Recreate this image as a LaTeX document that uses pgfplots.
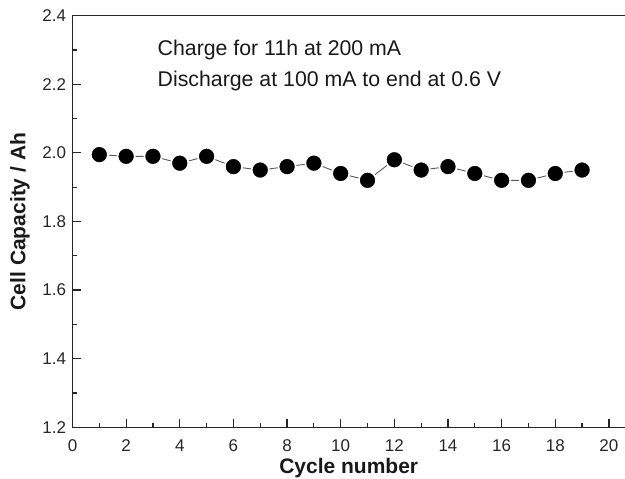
\documentclass[border=0pt]{standalone}
\usepackage{fontspec}
\setmainfont{Liberation Sans}
\usepackage{pgfplots}
\pgfplotsset{compat=1.18}
\begin{document}
\begin{tikzpicture}
\useasboundingbox (-72.5pt,-51.7pt) rectangle (552.5pt,427.3pt);
\begin{axis}[
  scale only axis,
  width=552.5pt, height=411.6pt,
  anchor=south west, at={(0,0)},
  xmin=0, xmax=20.6,
  ymin=1.2, ymax=2.4,
  axis x line*=bottom, axis y line*=left,
  axis line style={line width=1.5pt, black!85, -},
  xtick={0,2,...,20}, ytick={1.2,1.4,...,2.4},
  minor x tick num=1, minor y tick num=1,
  tick align=inside,
  major tick length=8.5pt, minor tick length=4.5pt,
  tick style={line width=1.2pt, black!85},
  /pgf/number format/assume math mode=true,
  /pgf/number format/fixed, /pgf/number format/fixed zerofill,
  yticklabel style={/pgf/number format/precision=1, xshift=-3pt},
  xticklabel style={/pgf/number format/precision=0, yshift=-9pt},
  ticklabel style={font=\fontsize{17}{20}\selectfont, text=black!85},
  xlabel={\textbf{Cycle number}},
  ylabel={\textbf{Cell Capacity / Ah}},
  label style={font=\fontsize{21}{25}\selectfont, text=black!90},
  xlabel style={at={(axis description cs:0.5,-0.112)}, anchor=base},
  ylabel style={at={(axis description cs:-0.095,0.5)}, anchor=center},
  clip=false,
]
\draw[line width=1.5pt, black!85] (rel axis cs:0,1) -- (rel axis cs:1,1);
\addplot[color=black!65, line width=0.9pt, mark=*, mark size=8.6pt,
  mark options={fill=black, draw=white, line width=1.7pt, solid}]
  coordinates {
  (1,1.995) (2,1.99) (3,1.99) (4,1.97) (5,1.99) (6,1.96) (7,1.95)
  (8,1.96) (9,1.97) (10,1.94) (11,1.92) (12,1.98) (13,1.95) (14,1.96)
  (15,1.94) (16,1.92) (17,1.92) (18,1.94) (19,1.95)
  };
\node[anchor=base west, inner sep=0pt, font=\fontsize{21.3}{25}\selectfont, text=black!90] at (axis cs:3.17,2.283) {Charge for 11h at 200 mA};
\node[anchor=base west, inner sep=0pt, font=\fontsize{21.3}{25}\selectfont, text=black!90] at (axis cs:3.17,2.193) {Discharge at 100 mA to end at 0.6 V};
\end{axis}
\end{tikzpicture}
\end{document}
